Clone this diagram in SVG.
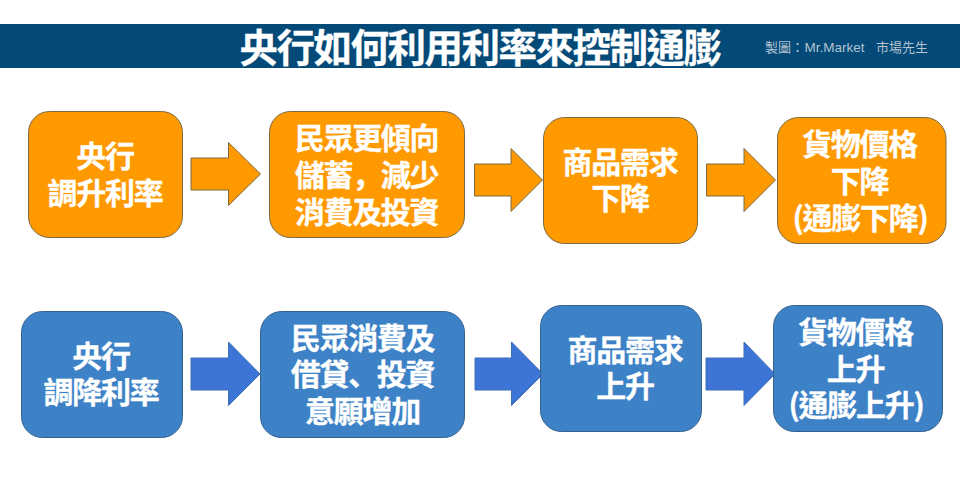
<svg xmlns="http://www.w3.org/2000/svg" width="960" height="502" viewBox="0 0 960 502">
<style>
text{font-family:"Noto Sans CJK TC","Noto Sans CJK SC",sans-serif;text-anchor:middle;fill:#fff;font-weight:700}
.n text{font-size:30px;letter-spacing:-1.3px;stroke:#fff;stroke-width:.3px}
.jp{font-family:"Noto Sans CJK JP",sans-serif}
.o{fill:#ff9900;stroke:#7a6a45;stroke-width:1}
.b{fill:#3d82c6;stroke:#34618f;stroke-width:1}
.ao{fill:#ff9900;stroke:#7a6a45;stroke-width:1}
.ab{fill:#3c75d6;stroke:#3f6db5;stroke-width:1}
.title{font-size:38.500px;letter-spacing:-1.500px;stroke:#fff;stroke-width:.3px}
.credit{font-size:13px;font-weight:400;fill:#b4c3cf;text-anchor:start}
.credit .lat{font-family:"Liberation Sans",sans-serif;font-size:13.500px}
</style>
<rect width="960" height="502" fill="#fff"/>
<g id="banner">
<rect x="0" y="24" width="960" height="44" fill="#034a78"/>
<text class="title" x="480" y="62">央行如何利用利率來控制通膨</text>
<text class="credit" y="52"><tspan x="765">製圖：</tspan><tspan class="lat" x="804.500">Mr.Market</tspan><tspan x="876">市場先生</tspan></text>
</g>
<g id="connectors">
<path class="ao" d="M191 158H228.500V142.500L260.500 174L228.500 205.500V190H191Z"/>
<path class="ao" d="M474.500 164H511V148.500L542.500 180L511 211.500V196H474.500Z"/>
<path class="ao" d="M706.500 164H744V148.500L775.500 180L744 211.500V196H706.500Z"/>
<path class="ab" d="M191 358H228.500V342L260 374L228.500 405.500V390H191Z"/>
<path class="ab" d="M475 358H511.500V342L543 374L511.500 405.500V390H475Z"/>
<path class="ab" d="M706 358H744V342L775 374L744 405.500V390H706Z"/>
</g>
<g id="n1" class="n"><rect class="o" x="28.500" y="111.500" width="154" height="126" rx="21"/><text><tspan x="105" y="167">央行</tspan><tspan x="105" y="204">調升利率</tspan></text></g>
<g id="n2" class="n"><rect class="o" x="269.500" y="111.500" width="195" height="126" rx="21"/><text><tspan x="366.500" y="149">民眾更傾向</tspan><tspan x="366.500" y="186">儲蓄<tspan class="jp">，</tspan>減少</tspan><tspan x="366.500" y="223">消費及投資</tspan></text></g>
<g id="n3" class="n"><rect class="o" x="543.500" y="117.500" width="154" height="126" rx="21"/><text><tspan x="620" y="173">商品需求</tspan><tspan x="620" y="209">下降</tspan></text></g>
<g id="n4" class="n"><rect class="o" x="777.500" y="117.500" width="168.500" height="126" rx="21"/><text><tspan x="859.500" y="155">貨物價格</tspan><tspan x="859.500" y="192">下降</tspan><tspan x="860" y="229">(通膨下降)</tspan></text></g>
<g id="n5" class="n"><rect class="b" x="21.500" y="311.500" width="161" height="126" rx="21"/><text><tspan x="101" y="367">央行</tspan><tspan x="101" y="403">調降利率</tspan></text></g>
<g id="n6" class="n"><rect class="b" x="260.500" y="311.500" width="204" height="126" rx="21"/><text><tspan x="362.500" y="349">民眾消費及</tspan><tspan x="362.500" y="385">借貸<tspan class="jp">、</tspan>投資</tspan><tspan x="362.500" y="422">意願增加</tspan></text></g>
<g id="n7" class="n"><rect class="b" x="540.500" y="305.500" width="161" height="126" rx="21"/><text><tspan x="625" y="361">商品需求</tspan><tspan x="625" y="397">上升</tspan></text></g>
<g id="n8" class="n"><rect class="b" x="773.500" y="305.500" width="169" height="126" rx="21"/><text><tspan x="855.500" y="343">貨物價格</tspan><tspan x="855.500" y="380">上升</tspan><tspan x="856" y="416">(通膨上升)</tspan></text></g>
</svg>
